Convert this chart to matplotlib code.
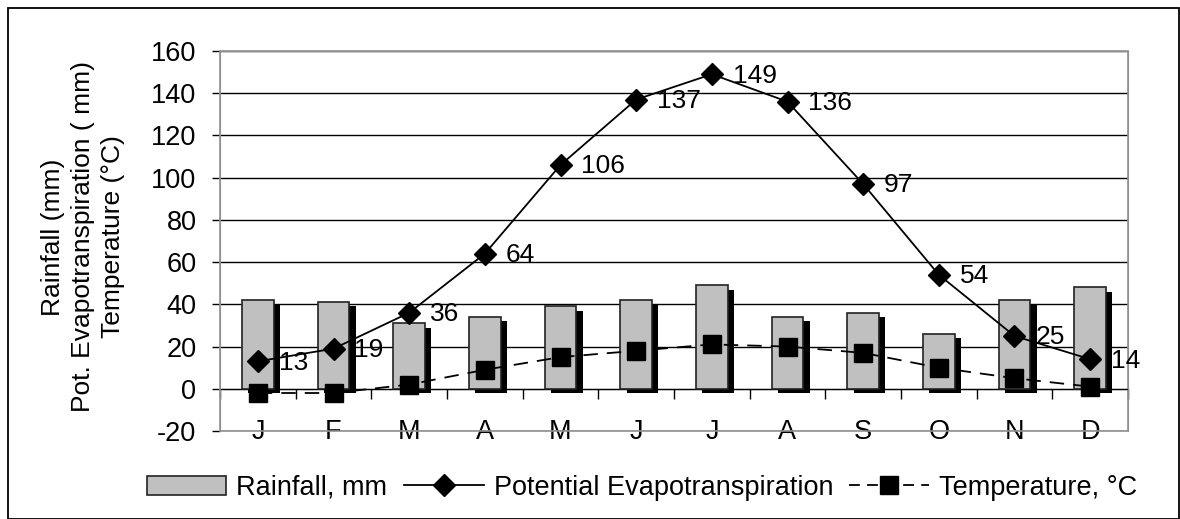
import matplotlib.pyplot as plt
import matplotlib.patheffects as pe
from matplotlib.patches import Rectangle
from matplotlib.lines import Line2D
import numpy as np

plt.rcParams['font.family'] = ['Liberation Sans', 'DejaVu Sans']
plt.rcParams['axes.unicode_minus'] = False

months = ['J', 'F', 'M', 'A', 'M', 'J', 'J', 'A', 'S', 'O', 'N', 'D']
rainfall = [42, 41, 31, 34, 39, 42, 49, 34, 36, 26, 42, 48]
pet = [13, 19, 36, 64, 106, 137, 149, 136, 97, 54, 25, 14]
temperature = [-2, -2, 2, 9, 15, 18, 21, 20, 17, 10, 5, 1]

x = np.arange(len(months))

fig = plt.figure(figsize=(11.8, 5.19), dpi=100)
ax = fig.add_axes([220 / 1180, 1 - 431 / 519, 908 / 1180, 380 / 519])

# grey bars with a solid black drop shadow, like the spreadsheet original
shadow = [pe.SimplePatchShadow(offset=(4.5, -3), shadow_rgbFace='black', alpha=1.0), pe.Normal()]
ax.bar(x, rainfall, width=0.42, color='#c0c0c0', edgecolor='#222222', linewidth=1.2,
       path_effects=shadow, zorder=3)

ax.plot(x, pet, color='black', linewidth=1.3, marker='D', markersize=11, zorder=5)
ax.plot(x, temperature, color='black', linewidth=1.3, linestyle=(0, (8, 5)),
        marker='s', markersize=13, zorder=4)

for xi, v in zip(x, pet):
    ax.annotate(str(v), (xi, v), xytext=(15, -1), textcoords='offset points',
                ha='left', va='center', fontsize=19, zorder=6)

ax.set_xlim(-0.5, 11.5)
ax.set_ylim(-20, 160)
ax.set_yticks(np.arange(-20, 161, 20))
ax.tick_params(axis='y', labelsize=19.5, length=6, width=1, color='black', pad=11)
ax.yaxis.grid(True, color='black', linewidth=1)
ax.set_axisbelow(True)

ax.spines['bottom'].set_position(('data', 0))
ax.spines['bottom'].set_color('black')
ax.spines['bottom'].set_zorder(2)
for side in ['left', 'top', 'right']:
    ax.spines[side].set_color('#909090')
ax.add_patch(Rectangle((0, 0), 1, 1, transform=ax.transAxes, fill=False,
                       edgecolor='#909090', linewidth=1.2, clip_on=False, zorder=1))

ax.set_xticks(x)
ax.set_xticklabels(months)
ax.set_xticks(np.arange(-0.5, 12, 1), minor=True)
ax.tick_params(axis='x', which='major', length=0, labelsize=19.5, pad=31)
ax.tick_params(axis='x', which='minor', length=7, width=1, color='black', direction='out')
for lbl in ax.get_xticklabels():
    lbl.set_verticalalignment('center')

fig.text(83 / 1180, 1 - 237 / 519,
         'Rainfall (mm)\nPot. Evapotranspiration ( mm)\nTemperature (°C)',
         rotation=90, ha='center', va='center', multialignment='center',
         fontsize=19, linespacing=1.3)

handles = [
    Rectangle((0, 0), 1, 1, facecolor='#c0c0c0', edgecolor='#222222', linewidth=1.2),
    Line2D([], [], color='black', linewidth=1.3, marker='D', markersize=11),
    Line2D([], [], color='black', linewidth=1.3, linestyle=(0, (6, 4)), marker='s', markersize=13),
]
fig.legend(handles, ['Rainfall, mm', 'Potential Evapotranspiration', 'Temperature, °C'],
           loc='center', bbox_to_anchor=(642 / 1180, 1 - 488 / 519), ncol=3, frameon=False,
           fontsize=19.5, handlelength=2.95, handleheight=0.74, handletextpad=0.37,
           columnspacing=0.6, borderpad=0)

fig.patches.append(Rectangle((8 / 1180, 0.5 / 519), 1171 / 1180, 511 / 519,
                             transform=fig.transFigure, fill=False, edgecolor='black',
                             linewidth=1.3))

fig.savefig('out.png', dpi=100)
